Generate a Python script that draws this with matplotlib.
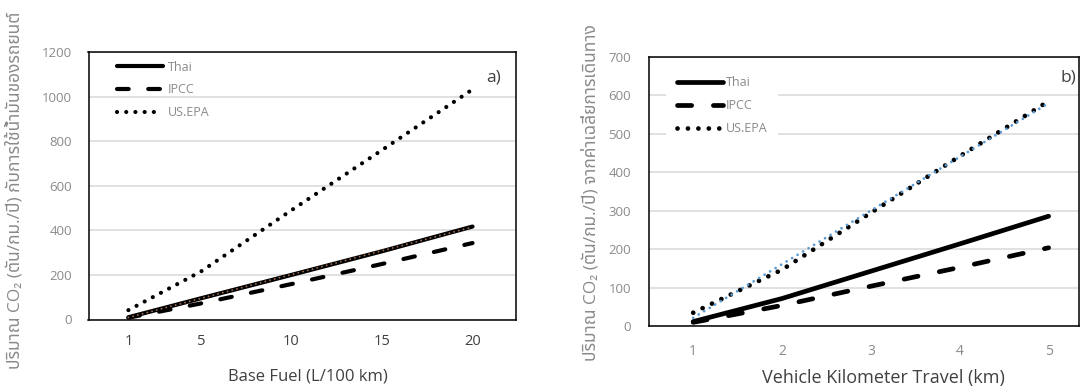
import matplotlib
matplotlib.use("Agg")
import matplotlib.pyplot as plt
from matplotlib import font_manager
from matplotlib.ft2font import FT2Font
import numpy as np

# ---- data -------------------------------------------------------------
series_labels = ["Thai", "IPCC", "US.EPA"]

fuel = [1, 5, 10, 15, 20]                 # L/100 km
fuel_thai = [10, 95, 200, 306, 417]
fuel_ipcc = [8, 72, 159, 249, 343]
fuel_usepa = [42, 215, 490, 760, 1032]

vkt = [1, 2, 3, 4, 5]                     # km
vkt_thai = [12, 72, 143, 214, 286]
vkt_ipcc = [10, 54, 104, 153, 204]
vkt_usepa = [35, 147, 295, 442, 585]

fuel_xticks = [1, 5, 10, 15, 20]
vkt_xticks = [1, 2, 3, 4, 5]
fuel_yticks = [0, 200, 400, 600, 800, 1000, 1200]
vkt_yticks = [0, 100, 200, 300, 400, 500, 600, 700]

fuel_xlabel = "Base Fuel (L/100 km)"
vkt_xlabel = "Vehicle Kilometer Travel (km)"
fuel_ylabel = "ปริมาณ CO₂ (ตัน/กม./ปี) กับการใช้น้ำมันของรถยนต์"
vkt_ylabel = "ปริมาณ CO₂ (ตัน/กม./ปี) จากค่าเฉลี่ยการเดินทาง"


# ---- fonts ------------------------------------------------------------
def thai_capable_family():
    preferred = ["Noto Sans Thai", "Noto Sans Thai UI", "Sarabun", "Tahoma",
                 "Leelawadee UI", "Loma", "Garuda", "Umpush", "Waree",
                 "Tlwg Typo", "Kinnari", "Norasi", "Noto Serif Thai"]
    found, checked = [], set()
    for entry in font_manager.fontManager.ttflist:
        if entry.fname in checked:
            continue
        checked.add(entry.fname)
        try:
            if 0x0E01 in FT2Font(entry.fname).get_charmap():
                if entry.name not in found:
                    found.append(entry.name)
        except Exception:
            pass
    for name in preferred:
        if name in found:
            return name
    return found[0] if found else None


thai_font = thai_capable_family()
families = ["Open Sans"] + ([thai_font] if thai_font else []) + ["DejaVu Sans"]
plt.rcParams["font.family"] = families

GRAY_TXT = "#8a8a8a"
DARK_TXT = "#404040"
GRID = "#d9d9d9"

W, H = 1081, 388
fig = plt.figure(figsize=(W / 100, H / 100), dpi=100)
fig.patch.set_facecolor("white")

ax_a = fig.add_axes([88.5 / W, (H - 319.5) / H, 427.3 / W, 267.5 / H])
ax_b = fig.add_axes([649 / W, (H - 326.2) / H, 430 / W, 269.2 / H])


def style_axes(ax, yticks, xticks, xtick_color, ypad, xpad, xsize):
    ax.set_yticks(yticks)
    ax.set_xticks(xticks)
    ax.set_xticklabels([str(t) for t in xticks])
    ax.set_ylim(yticks[0], yticks[-1])
    ax.tick_params(length=0)
    ax.tick_params(axis="y", labelsize=9.5, labelcolor=GRAY_TXT, pad=ypad)
    ax.tick_params(axis="x", labelsize=xsize, labelcolor=xtick_color, pad=xpad)
    ax.grid(axis="y", color=GRID, lw=1.1, zorder=0)
    ax.set_axisbelow(True)
    for sp in ax.spines.values():
        sp.set_color("black")
        sp.set_linewidth(1.1)


# ---- panel a: fuel consumption ----------------------------------------
lw_a = 3.0
ax_a.plot(fuel, fuel_thai, color="black", lw=lw_a, solid_capstyle="round",
          label=series_labels[0], zorder=3)
ax_a.plot(fuel, fuel_ipcc, color="black", lw=lw_a, linestyle=(0, (2.8, 4.7)),
          dash_capstyle="round", label=series_labels[1], zorder=3)
ax_a.plot(fuel, fuel_usepa, color="black", lw=lw_a, linestyle=(0, (0.01, 2.2)),
          dash_capstyle="round", label=series_labels[2], zorder=3)
# linear trend of the Thai series
k, b = np.polyfit(fuel, fuel_thai, 1)
fx = np.array([fuel[0], fuel[-1]])
ax_a.plot(fx, k * fx + b, color="#9c6b4e", lw=1.4, linestyle=(0, (0.01, 2.5)),
          dash_capstyle="round", zorder=4)

ax_a.set_xlim(-1.203, 22.39)
style_axes(ax_a, fuel_yticks, fuel_xticks, DARK_TXT, ypad=12, xpad=10.5,
           xsize=10.5)

leg_a = ax_a.legend(loc="upper left", bbox_to_anchor=(0.066, 0.968),
                    frameon=False, fontsize=9, handlelength=3.7,
                    handletextpad=0.4, labelspacing=0.78, borderpad=0,
                    borderaxespad=0)
for t in leg_a.get_texts():
    t.set_color(GRAY_TXT)

ax_a.set_xlabel(fuel_xlabel, fontsize=12, color=DARK_TXT)
ax_a.xaxis.label.set_va("center")
ax_a.xaxis.set_label_coords(0.513, -0.214)
ax_a.set_ylabel(fuel_ylabel, fontsize=12.5, color=GRAY_TXT)
ax_a.yaxis.label.set_va("center")
ax_a.yaxis.label.set_ha("center")
ax_a.yaxis.set_label_coords(-0.172, 0.484)
ax_a.text(0.947, 0.903, "a)", transform=ax_a.transAxes, fontsize=12.5,
          color=DARK_TXT, ha="center", va="center")

# ---- panel b: vehicle kilometre travel --------------------------------
lw_b = 3.4
ax_b.plot(vkt, vkt_thai, color="black", lw=lw_b, solid_capstyle="round",
          label=series_labels[0], zorder=3)
ax_b.plot(vkt, vkt_ipcc, color="black", lw=lw_b, linestyle=(0, (3.0, 4.6)),
          dash_capstyle="round", label=series_labels[1], zorder=3)
ax_b.plot(vkt, vkt_usepa, color="black", lw=lw_b, linestyle=(0, (0.01, 2.2)),
          dash_capstyle="round", label=series_labels[2], zorder=3)
# linear trend of the US.EPA series
k, b = np.polyfit(vkt, vkt_usepa, 1)
vx = np.array([vkt[0], vkt[-1]])
ax_b.plot(vx, k * vx + b, color="#5b9bd5", lw=2.0, linestyle=(0, (0.01, 2.3)),
          dash_capstyle="round", zorder=4)

ax_b.set_xlim(0.5025, 5.342)
style_axes(ax_b, vkt_yticks, vkt_xticks, GRAY_TXT, ypad=13, xpad=12.5,
           xsize=10)

leg_b = ax_b.legend(loc="upper left", bbox_to_anchor=(0.04, 0.968),
                    frameon=True, fontsize=9, handlelength=3.7,
                    handletextpad=0.25, labelspacing=0.8, borderpad=0.85,
                    borderaxespad=0, fancybox=False)
leg_b.get_frame().set_facecolor("white")
leg_b.get_frame().set_edgecolor("none")
leg_b.get_frame().set_alpha(1)
for t in leg_b.get_texts():
    t.set_color(GRAY_TXT)

ax_b.set_xlabel(vkt_xlabel, fontsize=13, color=DARK_TXT)
ax_b.xaxis.label.set_va("center")
ax_b.xaxis.set_label_coords(0.546, -0.193)
ax_b.set_ylabel(vkt_ylabel, fontsize=12.5, color=GRAY_TXT)
ax_b.yaxis.label.set_va("center")
ax_b.yaxis.label.set_ha("center")
ax_b.yaxis.set_label_coords(-0.135, 0.495)
ax_b.text(0.976, 0.922, "b)", transform=ax_b.transAxes, fontsize=12.5,
          color=DARK_TXT, ha="center", va="center")

fig.savefig("out.png", dpi=100, facecolor="white")
